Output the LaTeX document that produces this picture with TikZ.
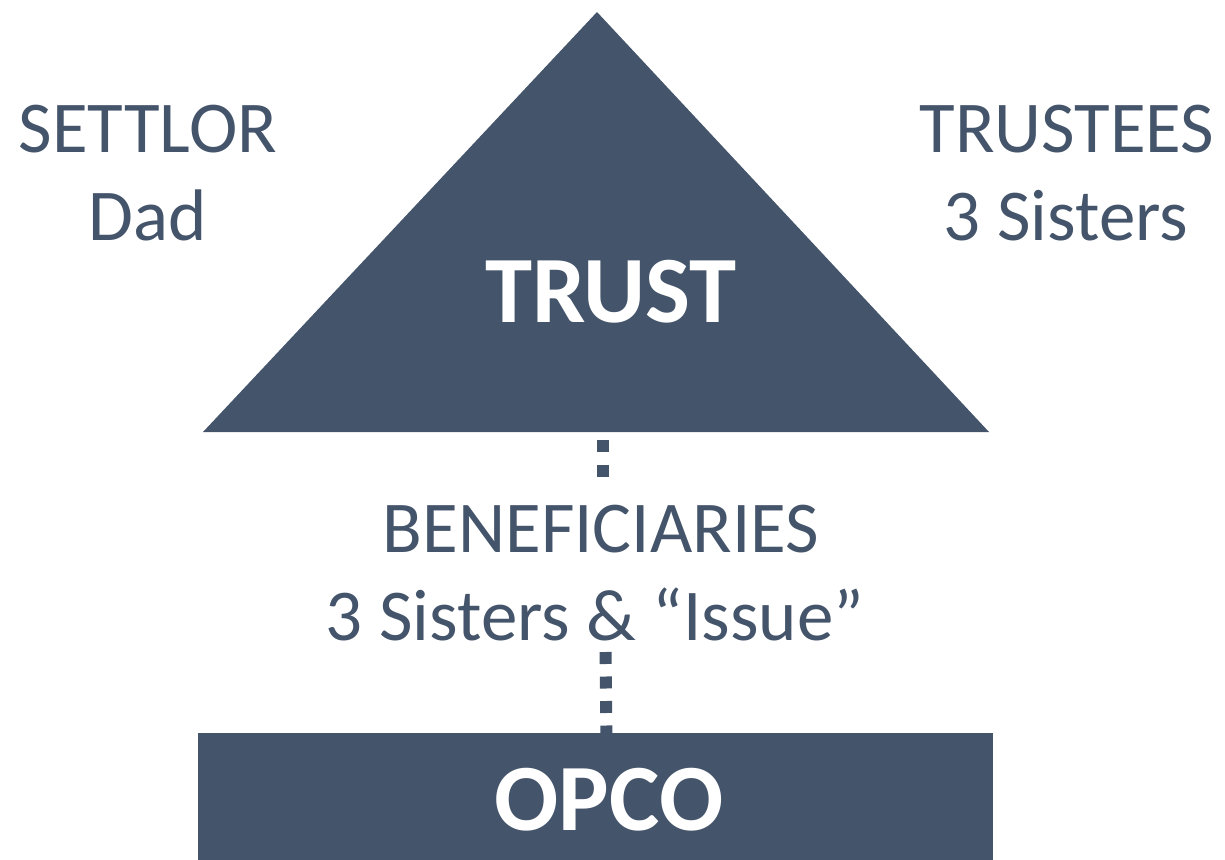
\documentclass[tikz,border=0pt]{standalone}
\usepackage{fontspec}
\setmainfont{Carlito}
\definecolor{slate}{HTML}{44546A}
\tikzset{
  shapefill/.style={fill=slate, draw=none},
  lbl/.style={inner sep=0pt, anchor=base, text=slate, font=\fontsize{73}{88}\selectfont},
  bigw/.style={inner sep=0pt, anchor=base, text=white, font=\bfseries\fontsize{95}{110}\selectfont},
  dotline/.style={draw=slate, line width=12pt, dash pattern=on 12pt off 12.5pt}
}
\begin{document}
\begin{tikzpicture}[x=1pt,y=-1pt]
\useasboundingbox (0,0) rectangle (1225,859);
% coordinates for connectors
\coordinate (tbase) at (603,432);
\coordinate (uend) at (603,482);
\coordinate (lstart) at (605.5,640);
\coordinate (rtop) at (606.5,740);
% connectors
\draw[dotline, dash phase=16.5pt] (tbase) -- (uend);
\draw[dotline, dash phase=12.5pt] (lstart) -- (rtop);
% triangle
\path[shapefill] (597,12) coordinate (apex) -- (989,432) coordinate (br) -- (203,432) coordinate (bl) -- cycle;
% rectangle
\path[shapefill] (198,733) coordinate (rtl) rectangle (993,870) coordinate (rbr);
% texts
\node[lbl] (settlor) at (148,152) {SETTLOR};
\node[lbl] (dad) at (148,240) {Dad};
\node[lbl] (trustees) at (1067,152) {TRUSTEES};
\node[lbl] (sisters) at (1066,240) {3 Sisters};
\node[bigw] (trust) at (611,322) {TRUST};
\node[lbl] (benef) at (601,552) {BENEFICIARIES};
\node[lbl] (issue) at (595,640) {3 Sisters \& “Issue”};
\node[bigw] (opco) at (609,830) {OPCO};
\end{tikzpicture}
\end{document}
